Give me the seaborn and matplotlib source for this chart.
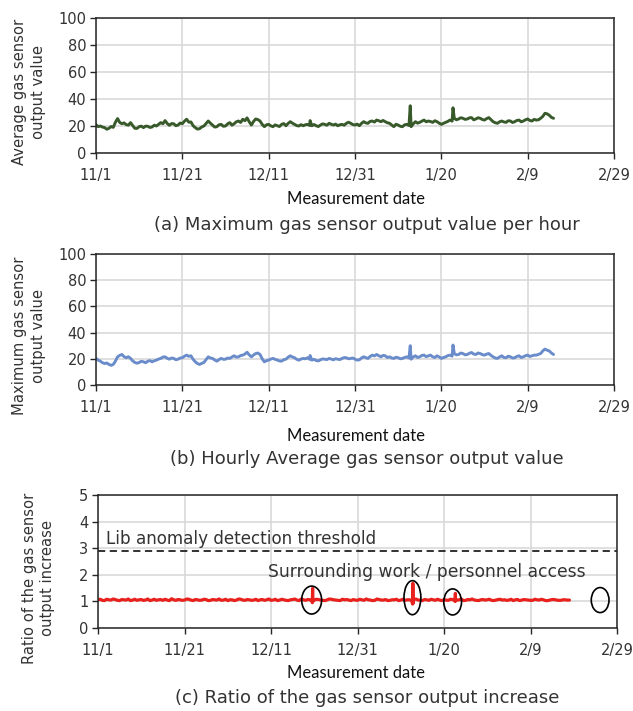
import numpy as np
import pandas as pd
import matplotlib
matplotlib.use("Agg")
import matplotlib.pyplot as plt
from matplotlib.patches import Ellipse
import seaborn as sns

# ---------------- data ----------------
tick_days = [0, 20, 40, 60, 80, 100, 120]
tick_labels = ["11/1", "11/21", "12/11", "12/31", "1/20", "2/9", "2/29"]

# readings at whole days (day 0 = 11/1)
series_a = [21, 20, 18.8, 18.3, 19, 25.5, 21.7, 21, 22.5, 18.3,
            19.5, 18.8, 19.8, 19.3, 20, 22.5, 24, 20.5, 21.7, 20.7,
            21.7, 25, 23, 18.8, 18, 20, 23.7, 20.7, 19.5, 21.2,
            20, 22.5, 21.7, 23.7, 25, 26, 20.7, 25.2, 23.7, 19.5,
            21.2, 19.5, 20.2, 21.2, 20.2, 23.2, 21.2, 20, 20.2, 21.2,
            20.2, 20.2, 20.7, 21.2, 22, 20.7, 20.2, 21.2, 22, 22,
            20.7, 20.2, 23.2, 22, 23.7, 24.4, 23.2, 23.2, 22, 19.5,
            20.7, 19.5, 21.2, 19.5, 23.2, 22.7, 24.4, 23.7, 22.7, 23.2,
            21.2, 22.7, 24.4, 25.7, 25.2, 25.7, 25.2, 26.2, 25.2, 25.7,
            24.4, 26.2, 23.2, 22, 23.7, 22.7, 23.7, 23.2, 24.4, 23.7,
            25.2, 23.7, 24.4, 25.7, 29.4, 28, 25.7]
# readings at half days (day + 0.5)
series_a_half = [19.5, 19.2, 17.6, 19.6, 22.8, 22.6, 22.3, 20.6, 20.3, 18.2,
                 19.9, 19.9, 18.9, 20.6, 21.3, 21.7, 21.9, 21.8, 20.2, 22.2,
                 23.6, 22.8, 20.2, 17.7, 19.3, 21.9, 22.1, 19.2, 20.9, 19.8,
                 21.6, 20.6, 23.1, 22.6, 23.9, 23.1, 23.4, 24.7, 21.2, 20.9,
                 20.1, 20.8, 19.6, 21.8, 21.9, 22.1, 20.3, 21.0, 20.9,
                 20.4, 21.1, 19.6, 21.6, 20.6, 21.3, 21.4, 20.9, 20.6, 22.8, 21.1,
                 21.4, 21.9, 22.3, 23.4, 22.9, 23.9, 24.1, 22.4, 20.8, 21.3,
                 19.8, 20.9, 20.4, 21.6, 22.1, 23.6, 23.1, 23.3, 23.9, 22.1,
                 22.0, 23.4, 23.6, 24.6, 26.1, 24.9, 26.0, 24.6, 26.1, 24.8,
                 25.5, 24.7, 22.4, 23.1, 23.0, 23.9, 22.6, 24.1, 23.1, 24.6,
                 24.1, 24.9, 24.6, 27.1, 29.0, 26.4]
spike_days_a = [49.6, 72.8, 82.7]
spike_vals_a = [24, 35, 33.5]

series_b = [20.3, 18.2, 16.4, 15.7, 15.7, 21.5, 23.3, 20.8, 20.3, 17.2,
            17.2, 17.7, 18.2, 17.7, 19, 20.3, 21.5, 19.7, 20.3, 19.7,
            20.8, 22.8, 22.3, 17.7, 15.7, 17.2, 21.5, 20.3, 18.2, 20.3,
            19.7, 20.3, 22.3, 21.5, 22.8, 25, 21.5, 24, 23.3, 17.7,
            19, 20.3, 19, 18.2, 19.7, 22.3, 20.8, 19, 20.3, 20.8,
            19, 18.7, 19.2, 19.7, 20.3, 19.2, 19.7, 20.3, 20.8, 20.3,
            19.7, 19.2, 21.5, 20.3, 22.8, 23.3, 21.5, 22.3, 21.5, 20.3,
            20.8, 20.3, 21.5, 19.7, 22.3, 21.5, 22.8, 22.3, 21.5, 22.3,
            20.3, 21.5, 22.8, 24, 23.3, 24, 23.3, 24.8, 23.3, 24,
            22.8, 24, 21.5, 20.3, 22.3, 20.8, 21.5, 20.8, 22.3, 21.5,
            22.8, 22.3, 22.8, 24, 27.4, 26, 23.3]
series_b_half = [19.0, 17.0, 16.8, 15.0, 18.2, 22.6, 21.6, 21.6, 18.4, 16.6,
                 18.1, 17.0, 18.6, 18.5, 19.8, 21.3, 20.4, 20.6, 19.3, 20.6,
                 22.0, 21.9, 19.6, 16.4, 16.5, 19.4, 20.6, 19.1, 19.4, 19.6,
                 20.6, 21.4, 21.3, 22.5, 23.6, 23.0, 22.9, 24.4, 20.0, 18.6,
                 19.8, 19.6, 18.4, 19.3, 21.2, 21.4, 19.6, 19.8, 20.0,
                 19.6, 19.6, 18.4, 19.9, 19.4, 19.8, 20.1, 19.4, 20.9, 20.0, 20.6,
                 19.0, 20.6, 20.9, 21.8, 22.2, 22.4, 22.6, 21.0, 20.6, 21.2,
                 20.0, 21.0, 20.6, 21.4, 21.0, 22.6, 21.6, 22.8, 21.0, 21.4,
                 21.0, 22.4, 22.0, 23.0, 24.4, 23.0, 24.2, 23.6, 24.4, 23.2,
                 23.6, 22.6, 20.6, 21.4, 21.0, 22.0, 20.6, 21.8, 21.0, 22.4,
                 21.8, 22.8, 23.4, 26.0, 26.6, 24.4]
spike_days_b = [49.6, 72.8, 82.7]
spike_vals_b = [22.5, 30, 30.5]

series_c = [1.06, 1.04, 1.08, 1.05, 1.07, 1.03, 1.06, 1.09, 1.05, 1.04,
            1.07, 1.05, 1.03, 1.08, 1.06, 1.04, 1.05, 1.10, 1.04, 1.06,
            1.05, 1.08, 1.03, 1.06, 1.05, 1.07, 1.04, 1.06, 1.09, 1.05,
            1.03, 1.06, 1.05, 1.08, 1.04, 1.06, 1.05, 1.03, 1.07, 1.06,
            1.04, 1.08, 1.05, 1.06, 1.03, 1.07, 1.05, 1.09, 1.04, 1.06,
            1.05, 1.07, 1.04, 1.06, 1.08, 1.05, 1.03, 1.06, 1.05, 1.07,
            1.04, 1.06, 1.09, 1.05, 1.04, 1.07, 1.05, 1.03, 1.06, 1.08,
            1.05, 1.04, 1.06, 1.07, 1.05, 1.03, 1.06, 1.08, 1.04, 1.05,
            1.06, 1.04, 1.07, 1.05, 1.09, 1.04, 1.06, 1.05, 1.03, 1.07,
            1.06, 1.04, 1.05, 1.08, 1.06, 1.05, 1.03, 1.07, 1.05, 1.06,
            1.04, 1.08, 1.05, 1.06, 1.03, 1.07, 1.05, 1.04, 1.06, 1.05]
series_c_half = [1.08, 1.03, 1.06, 1.09, 1.04, 1.07, 1.05, 1.03, 1.08, 1.06,
                 1.04, 1.09, 1.05, 1.04, 1.07, 1.08, 1.03, 1.06, 1.07, 1.04,
                 1.09, 1.05, 1.07, 1.04, 1.08, 1.03, 1.07, 1.05, 1.04, 1.08,
                 1.06, 1.03, 1.09, 1.05, 1.07, 1.04, 1.08, 1.06, 1.04, 1.09,
                 1.05, 1.03, 1.08, 1.04, 1.06, 1.09, 1.03, 1.06, 1.07, 1.04,
                 1.08, 1.05, 1.03, 1.09, 1.06, 1.04, 1.08, 1.07, 1.03, 1.05,
                 1.08, 1.04, 1.06, 1.03, 1.09, 1.05, 1.07, 1.04, 1.06, 1.03,
                 1.08, 1.06, 1.04, 1.09, 1.05, 1.07, 1.04, 1.06, 1.08, 1.03,
                 1.05, 1.08, 1.04, 1.06, 1.03, 1.07, 1.09, 1.04, 1.06, 1.05,
                 1.08, 1.03, 1.07, 1.05, 1.04, 1.08, 1.06, 1.03, 1.07, 1.05,
                 1.04, 1.06, 1.08, 1.03, 1.05, 1.07, 1.04, 1.06, 1.05]
spike_days_c = [49.56, 49.62, 49.68, 72.74, 72.8, 72.86, 82.56, 82.62, 82.68]
spike_vals_c = [0.95, 1.49, 1.0, 0.9, 1.68, 0.93, 1.0, 1.3, 1.02]

threshold = 2.9
ellipse_days = [49.4, 72.7, 82.0, 116.1]
ellipse_ratio = [1.05, 1.14, 0.98, 1.05]
ellipse_w = [4.6, 3.9, 4.1, 4.1]
ellipse_h = [1.05, 1.28, 0.98, 0.94]


def build(series, half, sdays, svals):
    d = list(range(len(series))) + [i + 0.5 for i in range(len(half))] + list(sdays)
    v = list(series) + list(half) + list(svals)
    return pd.DataFrame({"day": d, "value": v}).sort_values("day")


df_a = build(series_a, series_a_half, spike_days_a, spike_vals_a)
df_b = build(series_b, series_b_half, spike_days_b, spike_vals_b)
df_c = build(series_c, series_c_half, spike_days_c, spike_vals_c)

# ---------------- style ----------------
sns.set_theme(style="white")
plt.rcParams["font.family"] = ["DejaVu Sans"]
text_col = "#333333"

fig = plt.figure(figsize=(6.33, 7.11), dpi=100)
W, H = 633.0, 711.0


def add_ax(left, top, right, bottom):
    return fig.add_axes([left / W, 1 - bottom / H, (right - left) / W, (bottom - top) / H])


ax_a = add_ax(96, 18, 614, 153)
ax_b = add_ax(96, 254, 614, 385)
ax_c = add_ax(98, 495, 617, 628)

sns.lineplot(data=df_a, x="day", y="value", ax=ax_a, color="#385a2b", lw=2.1, sort=True)
sns.lineplot(data=df_b, x="day", y="value", ax=ax_b, color="#6a8ccb", lw=2.1, sort=True)
sns.lineplot(data=df_c, x="day", y="value", ax=ax_c, color="#e8211d", lw=2.3, sort=True)

for ax, yt in [(ax_a, [0, 20, 40, 60, 80, 100]), (ax_b, [0, 20, 40, 60, 80, 100]),
               (ax_c, [0, 1, 2, 3, 4, 5])]:
    ax.set_xlim(0, 120)
    ax.set_ylim(yt[0], yt[-1])
    ax.set_xticks(tick_days)
    ax.set_xticklabels(tick_labels)
    ax.set_yticks(yt)
    ax.grid(True, color="#d9d9d9", lw=1.2)
    ax.set_axisbelow(True)
    for s in ax.spines.values():
        s.set_visible(True)
        s.set_color("#262626")
        s.set_linewidth(1.1)
    ax.tick_params(axis="both", which="both", direction="out", length=4, width=1,
                   color="#262626", labelsize=10.5, labelcolor=text_col, bottom=True, left=True)
    ax.tick_params(axis="x", pad=6.5)
    ax.tick_params(axis="y", pad=3)
    ax.set_xlabel("")
    ax.set_ylabel("")

# threshold & annotations
ax_c.axhline(threshold, color="#222222", lw=1.3, ls=(0, (4, 2.5)))
ax_c.text(1.85, 3.16, "Lib anomaly detection threshold", fontsize=12.1, color=text_col,
          va="baseline", ha="left")
ax_c.text(39.3, 1.93, "Surrounding work / personnel access", fontsize=12.3, color=text_col,
          va="baseline", ha="left")
for cx, cy, w, h in zip(ellipse_days, ellipse_ratio, ellipse_w, ellipse_h):
    ax_c.add_patch(Ellipse((cx, cy), w, h, fill=False, ec="black", lw=1.2, zorder=5))

# axis titles
lab_font = ["Lato", "DejaVu Sans"]
for yc in [199, 436, 673]:
    fig.text(356 / W, 1 - yc / H, "Measurement date", fontsize=12, family=lab_font,
             color="#111111", ha="center", va="center")

captions = [(225, "(a) Maximum gas sensor output value per hour"),
            (459, "(b) Hourly Average gas sensor output value"),
            (698, "(c) Ratio of the gas sensor output increase")]
for yc, t in captions:
    fig.text(367 / W, 1 - yc / H, t, fontsize=13, color=text_col, ha="center", va="center")

ylabs = [(29, 92, "Average gas sensor\noutput value"),
         (29, 336, "Maximum gas sensor\noutput value"),
         (38.5, 578, "Ratio of the gas sensor\noutput increase")]
for xc, yc, t in ylabs:
    fig.text(xc / W, 1 - yc / H, t, fontsize=10.6, color=text_col, rotation=90,
             ha="center", va="center", linespacing=1.3, multialignment="center")

fig.savefig("out.png", dpi=100)
